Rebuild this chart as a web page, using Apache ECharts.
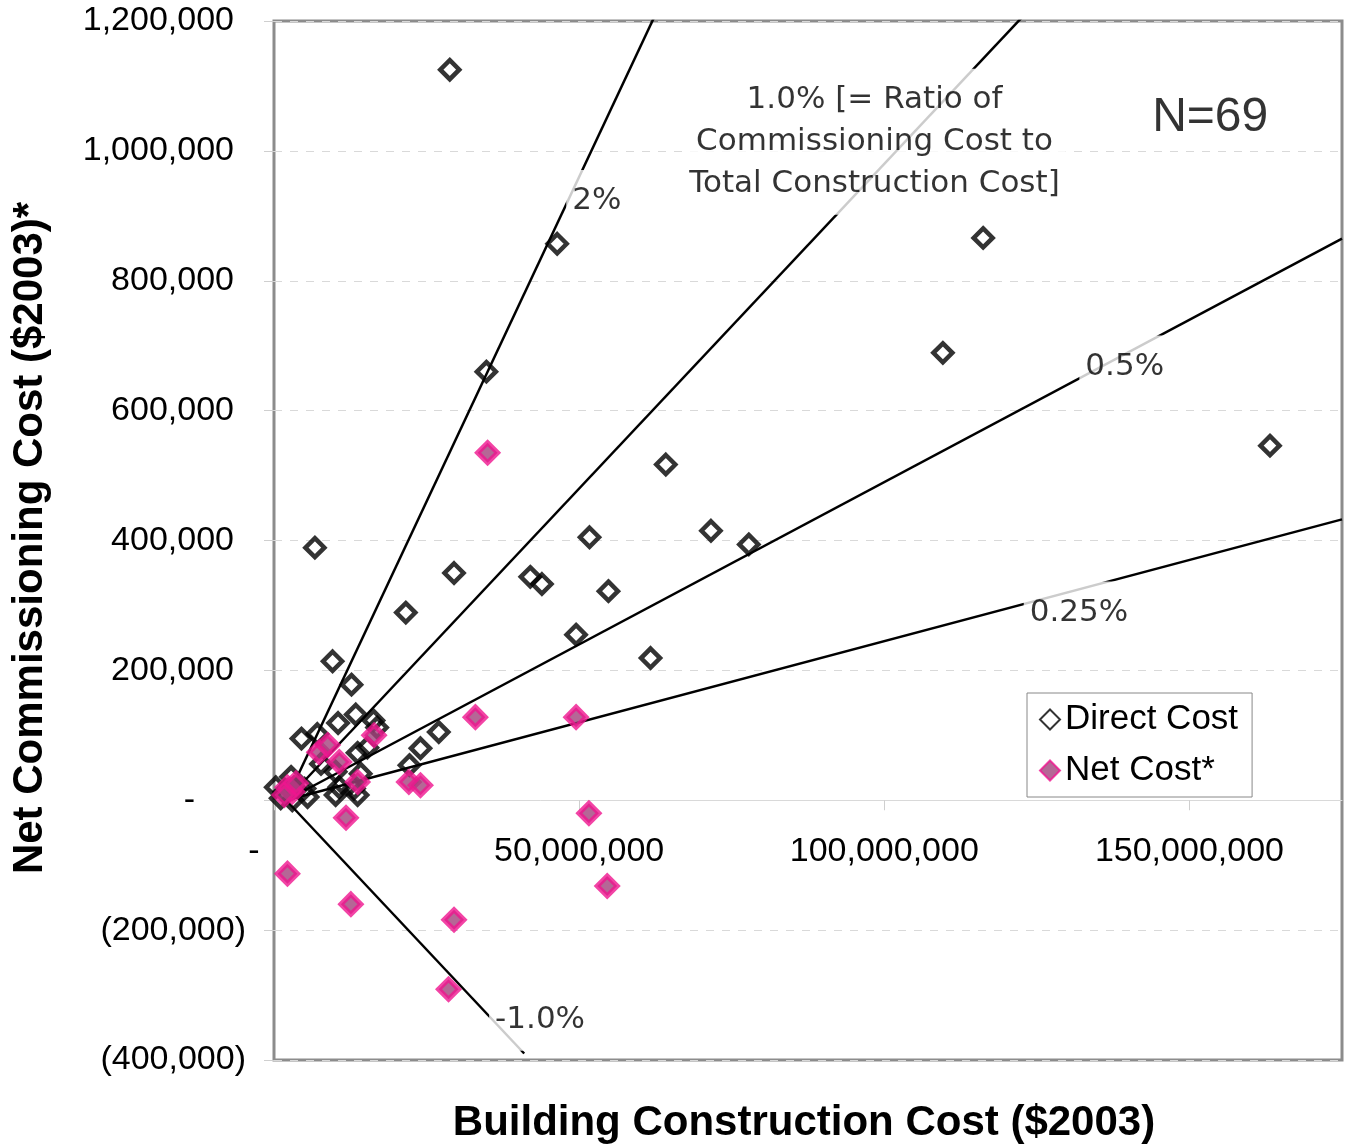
<!DOCTYPE html>
<html>
<head>
<meta charset="utf-8">
<title>Net Commissioning Cost vs Building Construction Cost</title>
<script src="https://cdn.jsdelivr.net/npm/echarts@6/dist/echarts.min.js"></script>
<style>
  html, body { margin: 0; padding: 0; background: #fff; }
  #chart { width: 1345px; height: 1145px; }
</style>
</head>
<body>
<div id="chart"></div>
<script>
// Building construction cost ($2003) and direct commissioning cost ($2003)
const directX = [28800000, 46400000, 116200000, 109600000, 34800000, 163200000, 64200000, 71600000,
  77800000, 51700000, 6700000, 29500000, 42000000, 43900000, 54800000, 21600000, 49500000, 61700000,
  9600000, 12700000, 27000000, 24000000, 22200000, 10500000, 13400000, 16300000, 16900000, 4500000,
  7100000, 13700000, 15300000, 7700000, 10100000, 10700000, 10100000, 13100000, 13700000, 14200000,
  300000, 1700000, 3300000, 5000000, 1100000, 3000000, 5500000, 2800000];
const directY = [1125000, 857000, 866000, 689000, 660000, 546000, 517000, 415000,
  394000, 405000, 389000, 350000, 344000, 333000, 322000, 289000, 255000, 219000,
  214000, 178000, 105000, 80000, 54000, 119000, 132000, 123000, 112000, 95000,
  102000, 73000, 81000, 56000, 44000, 20000, 8000, 18000, 8000, 41000,
  20000, 13000, 20000, 18000, 3000, 0, 5000, 36000];

// Building construction cost and net commissioning cost (after savings)
const netX = [35000000, 33000000, 49500000, 16400000, 7400000, 8800000, 10700000, 13700000,
  22100000, 24000000, 11800000, 3000000, 2200000, 3600000, 1700000, 51600000, 54600000,
  29500000, 12600000, 2200000, 28600000];
const netY = [535000, 128000, 128000, 100000, 74000, 85000, 59000, 28000,
  28000, 23000, -27000, 13000, 20000, 26000, 8000, -20000, -132000,
  -184000, -160000, -113000, -291000];

// Reference ratio lines (commissioning cost as % of construction cost)
const ratioPct = [2, 1, 0.5, 0.25, -1];
const ratioStartX = 2000000;
const ratioEndX = [175000000, 175000000, 175000000, 175000000, 41000000];

// Annotation texts and their anchor points (data coordinates)
const noteText = ['2%', '1.0% [= Ratio of\nCommissioning Cost to\nTotal Construction Cost]', '0.5%', '0.25%', '-1.0%', 'N=69'];
const noteX = [52900000, 98400000, 139400000, 131900000, 43600000, 153400000];
const noteY = [923000, 1014000, 668000, 289000, -338000, 1051000];

// Axis ranges
const xMin = 0, xMax = 175000000, xStep = 50000000;
const yMin = -400000, yMax = 1200000, yStep = 200000;

const ARIAL = '"Liberation Sans", Arial, sans-serif';
const fmt = v => Math.abs(v).toLocaleString('en-US');
const zip = (xs, ys) => xs.map((x, i) => [x, ys[i]]);

const chartEl = document.getElementById('chart');
const chart = echarts.init(chartEl, null, { renderer: 'canvas' });

const gridTop = 21, gridBottom = 85;
const plotH = 1145 - gridTop - gridBottom;
// the x axis sits on the zero line, lifted up from the bottom edge of the plot
const zeroLift = plotH * (0 - yMin) / (yMax - yMin);

const lineSeries = ratioPct.map((p, i) => ({
  type: 'line',
  name: p + '%',
  data: [[ratioStartX, 0], [ratioEndX[i], p / 100 * (ratioEndX[i] - ratioStartX)]],
  symbol: 'none',
  lineStyle: { color: '#000', width: 2.5 },
  silent: true,
  clip: true,
  z: 2
}));

const noteData = noteText.map((t, i) => {
  const d = { name: t, value: [noteX[i], noteY[i]] };
  if (t.startsWith('N=')) {
    d.label = { fontFamily: ARIAL, fontSize: 48, backgroundColor: 'transparent', padding: 0 };
  }
  return d;
});

chart.setOption({
  animation: false,
  backgroundColor: '#fff',
  grid: {
    left: 274, right: 3, top: gridTop, bottom: gridBottom,
    show: true,
    borderColor: '#8c8c8c',
    borderWidth: 3,
    backgroundColor: 'transparent'
  },
  legend: {
    data: ['Direct Cost', 'Net Cost*'],
    orient: 'vertical',
    left: 1027,
    top: 693,
    padding: [9, 14, 9, 12],
    itemGap: 16,
    itemWidth: 20,
    itemHeight: 20,
    backgroundColor: '#fff',
    borderColor: '#888',
    borderWidth: 1,
    borderRadius: 0,
    textStyle: { fontFamily: ARIAL, fontSize: 35, color: '#000' }
  },
  xAxis: {
    type: 'value',
    position: 'bottom',
    offset: -zeroLift,
    min: xMin, max: xMax, interval: xStep,
    axisLine: { show: true, onZero: false, lineStyle: { color: '#d9d9d9', width: 1 } },
    axisTick: { show: true, inside: false, length: 10, lineStyle: { color: '#cfcfcf' } },
    splitLine: { show: false },
    axisLabel: {
      showMaxLabel: false,
      margin: 34,
      color: '#000',
      fontFamily: ARIAL,
      fontSize: 34,
      formatter: v => v === 0 ? '{z|-}' : fmt(v),
      rich: { z: { fontFamily: ARIAL, fontSize: 34, color: '#000', padding: [0, 40, 0, 0] } }
    }
  },
  yAxis: {
    type: 'value',
    min: yMin, max: yMax, interval: yStep,
    axisLine: { show: false },
    axisTick: { show: true, length: 10, lineStyle: { color: '#cfcfcf' } },
    splitLine: { show: true, lineStyle: { color: '#d9d9d9', type: [8, 8], width: 1 } },
    axisLabel: {
      margin: 28,
      color: '#000',
      fontFamily: ARIAL,
      fontSize: 34,
      formatter: v => v > 0 ? '{p|' + fmt(v) + '}' : (v === 0 ? '{z|-}' : '(' + fmt(v) + ')'),
      rich: {
        p: { fontFamily: ARIAL, fontSize: 34, color: '#000', padding: [0, 12, 0, 0] },
        z: { fontFamily: ARIAL, fontSize: 34, color: '#000', padding: [0, 51, 0, 0] }
      }
    }
  },
  series: [
    ...lineSeries,
    {
      type: 'scatter',
      name: 'Direct Cost',
      data: zip(directX, directY),
      symbol: 'diamond',
      symbolSize: 19,
      itemStyle: { color: 'rgba(255,255,255,0)', borderColor: '#000', borderWidth: 4.5 },
      z: 3
    },
    {
      type: 'scatter',
      name: 'Net Cost*',
      data: zip(netX, netY),
      symbol: 'diamond',
      symbolSize: 20,
      itemStyle: { color: '#a3417c', borderColor: '#ef158f', borderWidth: 5 },
      z: 4
    },
    {
      type: 'scatter',
      name: 'notes',
      data: noteData,
      symbolSize: 0,
      silent: true,
      z: 6,
      label: {
        show: true,
        position: 'inside',
        formatter: p => p.name,
        color: '#000',
        fontFamily: '"DejaVu Sans", Verdana, sans-serif',
        fontSize: 31,
        lineHeight: 42,
        align: 'center',
        verticalAlign: 'middle',
        backgroundColor: '#fff',
        padding: [10, 6]
      }
    }
  ],
  graphic: [
    {
      type: 'text',
      x: 30, y: 538,
      rotation: Math.PI / 2,
      style: {
        text: 'Net Commissioning Cost ($2003)*',
        fontFamily: ARIAL,
        fontSize: 42,
        fontWeight: 'bold',
        fill: '#000',
        textAlign: 'center',
        textVerticalAlign: 'middle'
      }
    },
    {
      type: 'text',
      x: 804, y: 1123,
      style: {
        text: 'Building Construction Cost ($2003)',
        fontFamily: ARIAL,
        fontSize: 42,
        fontWeight: 'bold',
        fill: '#000',
        textAlign: 'center',
        textVerticalAlign: 'middle'
      }
    }
  ]
});
</script>
</body>
</html>
